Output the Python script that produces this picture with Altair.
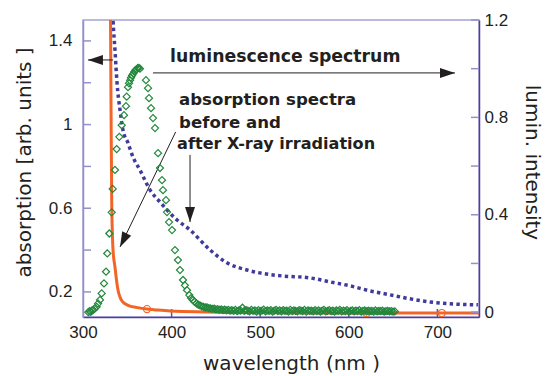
import altair as alt
import pandas as pd

# ---------------- data ----------------
# absorption before X-ray irradiation (orange line, left axis)
before_nm = [331.0, 331.6, 332.4, 333.9, 336.1, 337.8, 339.5, 341.8, 343.5, 345.2, 348.0,
             353.0, 360.0, 372.2, 380.0, 398.2, 488.5, 601.4, 747.0]
before_val = [1.55, 1.117, 0.639, 0.40, 0.319, 0.257, 0.209, 0.175, 0.160, 0.151, 0.142,
              0.132, 0.126, 0.118, 0.115, 0.109, 0.102, 0.099, 0.099]
# open circle markers on the orange curve
circle_nm = [372.2, 620.0, 705.0]
circle_val = [0.118, 0.099, 0.099]

# absorption after X-ray irradiation (blue dotted line, left axis)
after_nm = [333.3, 333.9, 336.1, 338.4, 341.8, 345.1, 350.8, 356.4, 364.3, 375.6, 386.9,
            406.1, 420.8, 443.3, 462.5, 485.1, 514.4, 525.7, 556.2, 578.8, 601.4, 623.9,
            646.5, 669.1, 691.6, 714.2, 745.8]
after_val = [1.56, 1.50, 1.357, 1.199, 1.07, 0.974, 0.912, 0.845, 0.783, 0.688, 0.630,
             0.544, 0.496, 0.401, 0.339, 0.305, 0.281, 0.276, 0.267, 0.248, 0.229, 0.205,
             0.186, 0.167, 0.152, 0.143, 0.138]

# luminescence spectrum (green diamonds, right axis)
lum_nm = [306.0, 307.5, 308.7, 310.0, 311.6, 313.0, 315.4, 317.0, 319.2, 321.1, 323.7,
          326.0, 327.4, 329.7, 332.4, 333.5, 336.1, 338.0, 341.0, 343.7, 346.3, 348.5,
          349.3, 350.8, 352.0, 353.1, 354.2, 355.4, 356.8, 358.0, 359.2, 360.6, 361.8,
          363.0, 364.3, 371.1, 373.4, 374.5, 376.8, 379.0, 381.3, 384.7, 386.9, 389.2,
          390.3, 393.7, 394.8, 397.1, 400.5, 403.8, 407.2, 409.5, 412.9, 415.0, 417.4,
          420.0, 422.0, 424.2,
          426, 428, 430, 432, 434, 436, 438, 440, 442, 444, 446, 448, 450, 452, 454,
          456, 458, 460, 462, 464, 466, 468, 470, 472, 474, 476, 478, 480, 482, 484,
          486, 488, 490, 492, 494, 496, 498, 500, 502, 504, 506, 508, 510, 512, 514,
          516, 518, 520, 522, 524, 526, 528, 530, 532, 534, 536, 538, 540, 542, 544,
          546, 548, 550, 552, 554, 556, 558, 560, 562, 564, 566, 568, 570, 572, 574,
          576, 578, 580, 582, 584, 586, 588, 590, 592, 594, 596, 598, 600, 602, 604,
          606, 608, 610, 612, 614, 616, 618, 620, 622, 624, 626, 628, 630, 632, 634,
          636, 638, 640, 642, 644, 646, 648, 650, 652]
lum_val = [0.0, 0.004, 0.001, 0.006, 0.009, 0.014, 0.022, 0.035, 0.05, 0.077, 0.118,
           0.166, 0.241, 0.323, 0.41, 0.506, 0.584, 0.67, 0.72, 0.768, 0.809, 0.846,
           0.885, 0.924, 0.94, 0.952, 0.963, 0.972, 0.98, 0.988, 0.994, 0.998, 1.002,
           1.003, 1.0, 0.953, 0.92, 0.879, 0.838, 0.797, 0.756, 0.653, 0.592, 0.542,
           0.501, 0.46, 0.411, 0.37, 0.337, 0.255, 0.214, 0.173, 0.132, 0.11, 0.09,
           0.07, 0.058, 0.049,
           0.042, 0.036, 0.031, 0.028, 0.024, 0.022, 0.019, 0.020, 0.016, 0.015, 0.013,
           0.014, 0.011, 0.012, 0.009, 0.011, 0.008, 0.010, 0.007, 0.009, 0.006, 0.008,
           0.005, 0.009, 0.004, 0.007, 0.006, 0.018, 0.005, 0.008,
           0.006, 0.003, 0.009, 0.005, 0.007, 0.002, 0.008, 0.004, 0.006, 0.010, 0.003,
           0.007, 0.005, 0.008, 0.002, 0.006, 0.009, 0.004, 0.007, 0.003,
           0.008, 0.005, 0.006, 0.002, 0.009, 0.004, 0.007, 0.005, 0.003, 0.008, 0.006,
           0.004, 0.009, 0.002, 0.007, 0.005, 0.006, 0.003, 0.008, 0.004,
           0.007, 0.002, 0.006, 0.009, 0.003, 0.005, 0.008, 0.004, 0.006, 0.002, 0.007,
           0.005, 0.009, 0.003, 0.006, 0.004, 0.008, 0.002, 0.005, 0.007,
           0.003, 0.006, 0.004, 0.008, 0.002, 0.005, 0.007, 0.003, 0.006, 0.004, 0.005,
           0.002, 0.007, 0.003, 0.005, 0.004, 0.006, 0.002, 0.004, 0.005,
           0.003, 0.004, 0.002, 0.003]

# axis ticks / labels
x_label_values = [300, 400, 500, 600, 700]
x_tick_values = [400, 500, 600, 700]
left_label_values = [0.2, 0.6, 1.0, 1.4]
left_tick_values = [0.2, 0.4, 0.6, 0.8, 1.0, 1.2, 1.4]
right_label_values = [0, 0.4, 0.8, 1.2]
right_tick_values = [0, 0.2, 0.4, 0.6, 0.8, 1.0, 1.2]

# annotations (in wavelength / absorption units)
note_text = ["luminescence spectrum", "absorption spectra", "before and", "after X-ray irradiation"]
note_x = [398.2, 408.4, 408.4, 406.2]
note_y = [1.297, 1.094, 0.982, 0.882]
note_size = [17.3, 16.6, 16.6, 16.1]

arrow_x = [379.0, 333.9, 404.6, 420.8]
arrow_y = [1.247, 1.309, 0.965, 0.855]
arrow_tip_x = [719.9, 305.6, 341.8, 420.8]
arrow_tip_y = [1.247, 1.309, 0.415, 0.534]
arrow_angle = [90, 270, 206.4, 180]

# ---------------- style ----------------
X_DOMAIN = [300, 747]
LEFT_DOMAIN = [0.08, 1.5]
RIGHT_DOMAIN = [-0.02, 1.2]
W, H = 396, 297

FONT = "DejaVu Sans"
TICKFONT = "Liberation Sans"
INK = "#231f20"
ORANGE = "#f26526"
BLUE = "#3f3a9c"
GREEN = "#23883c"
DARK_AX = "#4b409d"
LIGHT_AX = "#9590ca"

xs = alt.Scale(domain=X_DOMAIN, nice=False, zero=False)
ls = alt.Scale(domain=LEFT_DOMAIN, nice=False, zero=False)
rs = alt.Scale(domain=RIGHT_DOMAIN, nice=False, zero=False)

x_axis = alt.Axis(values=x_label_values, format="d", ticks=False, grid=False,
                  labelFlush=False, labelOverlap=False,
                  domainColor=DARK_AX, domainWidth=1.5,
                  labelFont=TICKFONT, labelFontSize=17, labelColor=INK, labelPadding=7,
                  title="wavelength (nm )", titleFont=FONT, titleFontSize=20,
                  titleFontWeight="normal", titleColor=INK, titleX=208, titleY=52,
                  titleBaseline="alphabetic", titleAlign="center")
left_axis = alt.Axis(values=left_label_values, format="~g", ticks=False, grid=False,
                     labelFlush=False, labelOverlap=False,
                     orient="left", domainColor=LIGHT_AX, domainWidth=1.5,
                     labelFont=TICKFONT, labelFontSize=17, labelColor=INK, labelPadding=11,
                     title="absorption [arb. units ]", titleFont=FONT, titleFontSize=20,
                     titleFontWeight="normal", titleColor=INK, titleAngle=270,
                     titleX=-53, titleY=142, titleBaseline="alphabetic", titleAlign="center")
right_axis = alt.Axis(values=right_label_values, format="~g", ticks=False, grid=False,
                      labelFlush=False, labelOverlap=False,
                      orient="right", domainColor=DARK_AX, domainWidth=1.5,
                      labelFont=TICKFONT, labelFontSize=17, labelColor=INK, labelPadding=5,
                      title="lumin. intensity", titleFont=FONT, titleFontSize=20,
                      titleFontWeight="normal", titleColor=INK, titleAngle=90,
                      titleX=46, titleY=142, titleBaseline="alphabetic", titleAlign="center")

df_before = pd.DataFrame({"nm": before_nm, "v": before_val})
df_circ = pd.DataFrame({"nm": circle_nm, "v": circle_val})
df_after = pd.DataFrame({"nm": after_nm, "v": after_val})
df_lum = pd.DataFrame({"nm": lum_nm, "v": lum_val})
df_notes = pd.DataFrame({"nm": note_x, "v": note_y, "t": note_text, "s": note_size})
df_arrows = pd.DataFrame({"nm": arrow_x, "v": arrow_y, "nm2": arrow_tip_x, "v2": arrow_tip_y,
                          "a": arrow_angle})
df_lt = pd.DataFrame({"v": left_tick_values})
df_rt = pd.DataFrame({"v": right_tick_values})
df_xt = pd.DataFrame({"nm": x_tick_values})


def X(field="nm"):
    return alt.X(f"{field}:Q", scale=xs, axis=x_axis)


def YL(field="v"):
    return alt.Y(f"{field}:Q", scale=ls, axis=left_axis)


def YR(field="v"):
    return alt.Y(f"{field}:Q", scale=rs, axis=right_axis)


left_ticks = alt.Chart(df_lt).mark_rule(color=LIGHT_AX, strokeWidth=1.5).encode(
    y=YL(), x=alt.value(0), x2=alt.value(8))
bottom_ticks = alt.Chart(df_xt).mark_rule(color="#5a52aa", strokeWidth=1.5).encode(
    x=X(), y=alt.value(H - 8), y2=alt.value(H))

blue = alt.Chart(df_after).mark_line(color=BLUE, strokeWidth=3.5, strokeDash=[3.4, 3.3],
                                     interpolate="monotone", clip=True).encode(x=X(), y=YL())
orange = alt.Chart(df_before).mark_line(color=ORANGE, strokeWidth=3, interpolate="monotone",
                                        clip=True).encode(x=X(), y=YL())
circles = alt.Chart(df_circ).mark_point(shape="circle", size=50, filled=False, color=ORANGE,
                                        strokeWidth=1.2, opacity=1).encode(x=X(), y=YL())

arrow_lines = alt.Chart(df_arrows).mark_rule(color=INK, strokeWidth=1).encode(
    x=X(), y=YL(), x2="nm2:Q", y2="v2:Q")
arrow_heads = alt.Chart(df_arrows).mark_point(
    shape="M0,0L0.667,2L-0.667,2Z", size=225, filled=True, color=INK, strokeWidth=0,
    opacity=1).encode(x=X("nm2"), y=YL("v2"), angle=alt.Angle("a:Q", scale=None))
notes = alt.Chart(df_notes).mark_text(font=FONT, fontWeight="bold", color=INK,
                                      align="left", baseline="alphabetic").encode(
    x=X(), y=YL(), text="t:N", size=alt.Size("s:Q", scale=None, legend=None))

left_layer = alt.layer(left_ticks, bottom_ticks, blue, orange, circles,
                       arrow_lines, arrow_heads, notes)

green = alt.Chart(df_lum).mark_point(shape="diamond", size=50, filled=False, color=GREEN,
                                     strokeWidth=1.2, opacity=1).encode(x=X(), y=YR())
right_ticks = alt.Chart(df_rt).mark_rule(color=LIGHT_AX, strokeWidth=1.5).encode(
    y=YR(), x=alt.value(W - 8), x2=alt.value(W))
right_layer = alt.layer(right_ticks, green)

chart = alt.layer(left_layer, right_layer).resolve_scale(y="independent").properties(
    width=W, height=H,
    autosize=alt.AutoSizeParams(type="none"),
    padding={"left": 83, "top": 20, "right": 66, "bottom": 59},
    background="white",
).configure_view(stroke="#a6a2d4", strokeWidth=1.5)

chart.save("out.html", embed_options={"renderer": "svg", "actions": False})
